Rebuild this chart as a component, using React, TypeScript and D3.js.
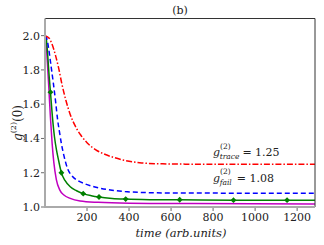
import React from "react";
import * as d3 from "d3";

const W = 324, H = 245;
const M = { left: 45, right: 315, top: 18.5, bottom: 207 };

const xTicks = [200, 400, 600, 800, 1000, 1200];
const yTicks = [1.0, 1.2, 1.4, 1.6, 1.8, 2.0];

const redT = [0, 20, 35, 50, 65, 80, 100, 120, 145, 170, 200, 240, 280, 330, 380, 460, 560, 700, 1285];
const redV = [2.0, 1.985, 1.945, 1.885, 1.81, 1.72, 1.62, 1.54, 1.47, 1.42, 1.375, 1.335, 1.31, 1.288, 1.272, 1.257, 1.252, 1.25, 1.249];

const blueT = [0, 8, 18, 28, 40, 50, 60, 70, 78, 90, 107, 130, 155, 190, 233, 311, 380, 460, 600, 1285];
const blueV = [2.0, 1.985, 1.92, 1.83, 1.72, 1.62, 1.51, 1.43, 1.37, 1.3, 1.225, 1.18, 1.155, 1.135, 1.118, 1.099, 1.09, 1.085, 1.082, 1.08];

const greenT = [0, 5, 12, 20, 26, 35, 45, 55, 65, 78, 95, 120, 150, 182, 220, 257, 320, 384, 500, 641, 897, 1285];
const greenV = [2.0, 1.99, 1.9, 1.76, 1.67, 1.53, 1.41, 1.33, 1.27, 1.2, 1.155, 1.118, 1.095, 1.078, 1.066, 1.058, 1.05, 1.046, 1.043, 1.042, 1.04, 1.039];

const markT = [26, 78, 182, 257, 384, 641, 897, 1152];
const markV = [1.67, 1.2, 1.078, 1.058, 1.046, 1.042, 1.04, 1.04];

const magT = [0, 5, 10, 18, 26, 34, 42, 54, 70, 90, 120, 167, 253, 400, 700, 1285];
const magV = [2.0, 1.97, 1.87, 1.7, 1.52, 1.37, 1.26, 1.16, 1.1, 1.07, 1.05, 1.035, 1.027, 1.022, 1.02, 1.018];

const FONT = "DejaVu Serif";

export default function App() {
  const x = d3.scaleLinear().domain([0, 1285]).range([M.left, M.right]);
  const y = d3.scaleLinear().domain([1.0, 2.1]).range([M.bottom, M.top]);
  const line = d3
    .line<[number, number]>()
    .x((d) => x(d[0]))
    .y((d) => y(d[1]))
    .curve(d3.curveMonotoneX);
  const zip = (t: number[], v: number[]) => t.map((tt, i) => [tt, v[i]] as [number, number]);
  const sym = d3.symbol().type(d3.symbolDiamond2).size(22);

  return (
    <svg width={W} height={H} style={{ position: "absolute", left: 0, top: 0, background: "#fff" }}>
      <defs>
        <clipPath id="plot">
          <rect x={M.left} y={M.top} width={M.right - M.left} height={M.bottom - M.top} />
        </clipPath>
      </defs>
      <g fontFamily={FONT} fill="#222">
        <text x={180} y={14} fontSize={11} textAnchor="middle">(b)</text>
      </g>

      <g clipPath="url(#plot)" fill="none" strokeWidth={1.5}>
        <path d={line(zip(magT, magV)) || ""} stroke="#c000c0" />
        <path d={line(zip(greenT, greenV)) || ""} stroke="#008000" />
        <path d={line(zip(blueT, blueV)) || ""} stroke="#0000ff" strokeDasharray="5,3" />
        <path d={line(zip(redT, redV)) || ""} stroke="#ff0000" strokeDasharray="6,2,1.5,2" />
      </g>
      {markT.map((t, i) => (
        <path key={i} d={sym() || ""} transform={`translate(${x(t)},${y(markV[i])})`} fill="#008000" />
      ))}

      <line x1={M.left} x2={M.right} y1={M.top} y2={M.top} stroke="#333" strokeWidth={1} />
      <line x1={M.right} x2={M.right} y1={M.top} y2={M.bottom} stroke="#333" strokeWidth={1} />
      <line x1={M.left} x2={M.left} y1={M.top} y2={M.bottom + 1} stroke="#aaa" strokeWidth={2} />
      <line x1={M.left - 1} x2={M.right} y1={M.bottom} y2={M.bottom} stroke="#aaa" strokeWidth={2} />

      <g fontFamily={FONT} fill="#222">
        {xTicks.map((t) => (
          <g key={t}>
            <line x1={x(t)} x2={x(t)} y1={M.bottom + 1} y2={M.bottom + 4} stroke="#444" strokeWidth={0.8} />
            <text x={x(t)} y={221} fontSize={11} textAnchor="middle">{t}</text>
          </g>
        ))}
        {yTicks.map((t) => (
          <g key={t}>
            <line x1={M.left - 4} x2={M.left - 1} y1={y(t)} y2={y(t)} stroke="#444" strokeWidth={0.8} />
            <text x={M.left - 5} y={y(t) + 4} fontSize={11} textAnchor="end">{t.toFixed(1)}</text>
          </g>
        ))}

        <text x={181} y={237} fontSize={11.5} textAnchor="middle" fontStyle="italic">
          time (arb.units)
        </text>

        <text transform="translate(22,123) rotate(-90)" fontSize={12} textAnchor="middle">
          <tspan fontStyle="italic">g</tspan>
          <tspan fontSize={8} dy={-6}>(2)</tspan>
          <tspan dy={6}>(0)</tspan>
        </text>

        <text x={213} y={156} fontSize={11}>
          <tspan fontStyle="italic">g</tspan>
          <tspan fontSize={7.5} dy={-7.5}>(2)</tspan>
          <tspan fontSize={7.5} fontStyle="italic" dy={10.5} dx={-11}>trace</tspan>
          <tspan dy={-3} dx={3}>= 1.25</tspan>
        </text>
        <text x={213} y={181.5} fontSize={11}>
          <tspan fontStyle="italic">g</tspan>
          <tspan fontSize={7.5} dy={-7.5}>(2)</tspan>
          <tspan fontSize={7.5} fontStyle="italic" dy={10.5} dx={-11}>fail</tspan>
          <tspan dy={-3} dx={5}>= 1.08</tspan>
        </text>
      </g>
    </svg>
  );
}
